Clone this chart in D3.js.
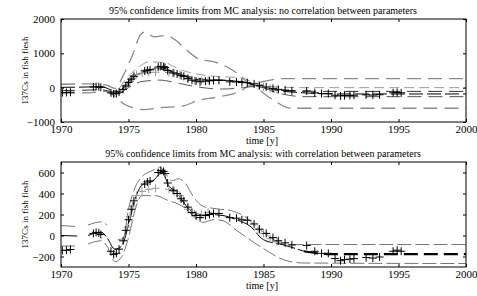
<!DOCTYPE html>
<html>
<head>
<meta charset="utf-8">
<script src="https://cdn.jsdelivr.net/npm/d3@7"></script>
<style>
  body { margin: 0; background: #fff; }
  text { font-family: "Liberation Serif", "DejaVu Serif", serif; fill: #000; }
</style>
</head>
<body>
<div id="chart"></div>
<script>
// measured data (same in both panels)
var dataYears  = [1970.1,1970.4,1970.7, 1972.4,1972.6,1972.8,1972.95, 1973.7,1973.9,1974.1,1974.3,
  1974.6,1974.8,1975.0,1975.2,1975.4, 1976.2,1976.4,1976.6, 1977.2,1977.4,1977.6,1977.7, 1977.9,
  1978.3,1978.6,1978.9,1979.1, 1979.4,1979.7,1980.0,1980.3, 1980.7,1981.0,1981.3,1981.7,
  1982.5,1983.0,1983.4,1983.8, 1984.3,1984.7,1985.2, 1985.7,1986.1,1986.6,1987.1,
  1988.2,1988.8,1989.3,1989.8, 1990.3,1990.7,1991.0,1991.4,1991.7, 1992.6,1993.1,1993.6,
  1994.6,1994.9,1995.2];
var dataValues = [-143,-140,-133, 20,30,25,10, -150,-180,-170,-130,
  -50,50,150,250,330, 490,510,520, 600,620,610,590, 500,
  430,400,350,330, 270,220,190,170, 190,200,210,210,
  170,165,150,145, 110,60,20, -20,-50,-70,-90,
  -95,-150,-170,-170, -220,-240,-230,-225,-220, -210,-215,-205,
  -150,-140,-150];
// simulated points (grey crosses)
var grayYears  = [1974.9,1975.1,1975.3,1975.6,1976.0,1976.5,1977.0,1978.0,1978.4,1978.8,1979.4,1979.9,1980.4,1980.9,1984.6,1985.0,1985.5,1986.0];
var grayValues = [80,180,280,380,420,440,450,440,420,380,250,210,200,220,60,20,-30,-60];

// panel 1: no correlation
var topOuterUpper = [[1970,100],[1972,110],[1973.3,80],[1974,-20],[1974.6,350],[1975.3,950],[1975.9,1550],[1976.2,1620],[1976.9,1480],[1977.8,1520],[1978.5,1380],[1979.3,1100],[1980.3,820],[1981.3,760],[1982.5,560],[1983.3,350],[1984,110],[1985,180],[1986.3,262],[2000,262]];
var topOuterLower = [[1970,-160],[1972,-150],[1973.3,-110],[1974,-250],[1974.6,-460],[1975.3,-580],[1976.1,-640],[1977.3,-580],[1978.8,-550],[1980.3,-360],[1981.8,-260],[1983.3,-100],[1984,60],[1985.5,-300],[1987,-600],[2000,-600]];
var topInnerUpper = [[1974.3,-30],[1974.8,250],[1975.7,580],[1976.5,750],[1977.7,730],[1978.6,560],[1980.3,380],[1981.5,330],[1983.3,290],[1984.3,150],[1986,20],[1988,0],[2000,0]];
var topInnerLower = [[1974.3,-180],[1975,0],[1976,180],[1977.3,220],[1978.8,120],[1980.3,10],[1982,-40],[1983.5,0],[1984.5,40],[1986,-150],[1988,-262],[2000,-262]];
var topModel = [[1970,10],[1972,20],[1973,30],[1973.8,-80],[1974.3,-110],[1974.8,100],[1975.5,350],[1976.5,510],[1977.5,570],[1978.5,420],[1979.5,290],[1980.5,220],[1981.5,230],[1982.5,200],[1983.5,170],[1984.5,50],[1986,-80],[1988,-150],[1990,-184],[2000,-184]];
var topModelUpper = [[1970,-87],[1972,-70],[1973,-60],[1973.8,-120],[1974.3,-130],[1975,150],[1976,440],[1977,560],[1978,480],[1979.5,320],[1981,230],[1983,200],[1985,0],[1987,-90],[1989,-108],[2000,-108]];

// panel 2: with correlation
var botUpper = [[1970,95],[1971.2,85],[1971.3,null],[1972,100],[1973,130],[1973.4,100],[1973.5,null],[1974.2,-40],[1974.6,-30],[1975,250],[1975.5,460],[1976,560],[1976.8,620],[1977.3,650],[1977.8,580],[1978.2,520],[1978.7,540],[1979.2,500],[1979.8,370],[1980.5,280],[1981.2,260],[1981.8,250],[1982.5,240],[1983.5,190],[1985,30],[1986.7,-86],[2000,-86]];
var botMid = [[1970,0],[1971.2,-5],[1971.3,null],[1972,0],[1973,30],[1973.4,-20],[1974,-130],[1974.5,-100],[1975,100],[1975.5,350],[1976,480],[1976.8,520],[1977.5,600],[1978,470],[1978.5,420],[1979,330],[1979.5,250],[1980.3,190],[1981,200],[1982,190],[1983,150],[1984,90],[1985,-40],[1986.5,-90],[1988,-150]];
var botMidTail = [[1988,-150],[1990,-178],[2000,-178]];
var botLower = [[1970,-100],[1971.2,-100],[1971.3,null],[1972,-80],[1973,-50],[1973.4,-100],[1974,-250],[1974.5,-200],[1975,-20],[1975.5,250],[1976,380],[1977,380],[1978,330],[1978.5,310],[1979.2,260],[1980,160],[1980.5,125],[1981.3,150],[1982,140],[1983,50],[1985,-125],[1986.7,-240],[1988,-262],[2000,-267]];

var xTicks = [1970, 1975, 1980, 1985, 1990, 1995, 2000];
var topYTicks = [-1000, 0, 1000, 2000];
var botYTicks = [-200, 0, 200, 400, 600];

var titles = ["95% confidence limits from MC analysis: no correlation between parameters",
              "95% confidence limits from MC analysis: with correlation between parameters"];

var W = 477, H = 296;
var svg = d3.select("#chart").append("svg")
  .attr("width", W)
  .attr("height", H);

var x = d3.scaleLinear().domain([1970, 2000]).range([61, 466]);

function panel(top, bottom, domain, yTicks, title) {
  var y = d3.scaleLinear().domain(domain).range([bottom, top]);
  var g = svg.append("g");
  var clipId = "clip" + top;
  g.append("clipPath").attr("id", clipId)
    .append("rect").attr("x", 61).attr("y", top).attr("width", 405).attr("height", bottom - top);

  var plot = g.append("g").attr("clip-path", "url(#" + clipId + ")");

  // axes, ticks inward
  g.append("g").attr("transform", "translate(0," + bottom + ")")
    .call(d3.axisBottom(x).tickValues(xTicks).tickFormat(d3.format("d")).tickSizeInner(-3).tickSizeOuter(0).tickPadding(3))
    .call(function(a) { a.select(".domain").remove(); a.selectAll("text").style("font-size", "11px").style("font-family", "Liberation Serif"); });
  g.append("g").attr("transform", "translate(0," + top + ")")
    .call(d3.axisTop(x).tickValues(xTicks).tickFormat("").tickSizeInner(-3).tickSizeOuter(0))
    .call(function(a) { a.select(".domain").remove(); });
  g.append("g").attr("transform", "translate(61,0)")
    .call(d3.axisLeft(y).tickValues(yTicks).tickFormat(d3.format("d")).tickSizeInner(-3).tickSizeOuter(0).tickPadding(6))
    .call(function(a) { a.select(".domain").remove(); a.selectAll("text").style("font-size", "11px").style("font-family", "Liberation Serif"); });
  g.append("g").attr("transform", "translate(466,0)")
    .call(d3.axisRight(y).tickValues(yTicks).tickFormat("").tickSizeInner(-3).tickSizeOuter(0))
    .call(function(a) { a.select(".domain").remove(); });
  g.append("rect").attr("x", 61).attr("y", top).attr("width", 405).attr("height", bottom - top)
    .attr("fill", "none").attr("stroke", "#000").attr("stroke-width", 1);

  g.append("text").attr("x", 263).attr("y", top - 5).attr("text-anchor", "middle")
    .style("font-size", "10px").text(title);
  g.append("text").attr("x", 262).attr("y", bottom + 22).attr("text-anchor", "middle")
    .style("font-size", "10px").text("time [y]");
  g.append("text").attr("transform", "translate(28," + ((top + bottom) / 2) + ") rotate(-90)")
    .attr("text-anchor", "middle").style("font-size", "9px").text("137Cs in fish flesh");

  var line = d3.line()
    .defined(function(d) { return d[1] !== null; })
    .x(function(d) { return x(d[0]); })
    .y(function(d) { return y(d[1]); })
    .curve(d3.curveMonotoneX);

  return { y: y, plot: plot, line: line };
}

function drawLine(p, data, color, width, dash) {
  p.plot.append("path").datum(data)
    .attr("d", p.line)
    .attr("fill", "none")
    .attr("stroke", color)
    .attr("stroke-width", width)
    .attr("stroke-dasharray", dash);
}

function crosses(p, xs, ys, color) {
  var pts = xs.map(function(v, i) { return [v, ys[i]]; });
  p.plot.selectAll(null).data(pts).enter().append("path")
    .attr("d", function(d) {
      var cx = x(d[0]), cy = p.y(d[1]);
      return "M" + (cx - 4) + "," + cy + "H" + (cx + 4) + "M" + cx + "," + (cy - 4) + "V" + (cy + 4);
    })
    .attr("stroke", color)
    .attr("stroke-width", 1)
    .attr("fill", "none");
}

var p1 = panel(19, 122, [-1000, 2000], topYTicks, titles[0]);
drawLine(p1, topOuterUpper, "#8a8a8a", 1.3, "14,7");
drawLine(p1, topOuterLower, "#8a8a8a", 1.3, "14,7");
drawLine(p1, topInnerUpper, "#9a9a9a", 1, "10,5");
drawLine(p1, topInnerLower, "#555", 1, "14,7");
drawLine(p1, topModelUpper, "#333", 1, "14,7");
drawLine(p1, topModel, "#000", 1, "14,4");
crosses(p1, grayYears, grayValues, "#999");
crosses(p1, dataYears, dataValues, "#000");

var p2 = panel(162, 267, [-300, 700], botYTicks, titles[1]);
drawLine(p2, botUpper, "#666", 0.9, "14,4");
drawLine(p2, botLower, "#666", 0.9, "14,4");
drawLine(p2, botMid, "#000", 1, "20,3");
drawLine(p2, botMidTail, "#000", 2.2, "14,6");
crosses(p2, grayYears, grayValues, "#999");
crosses(p2, dataYears, dataValues, "#000");
</script>
</body>
</html>
